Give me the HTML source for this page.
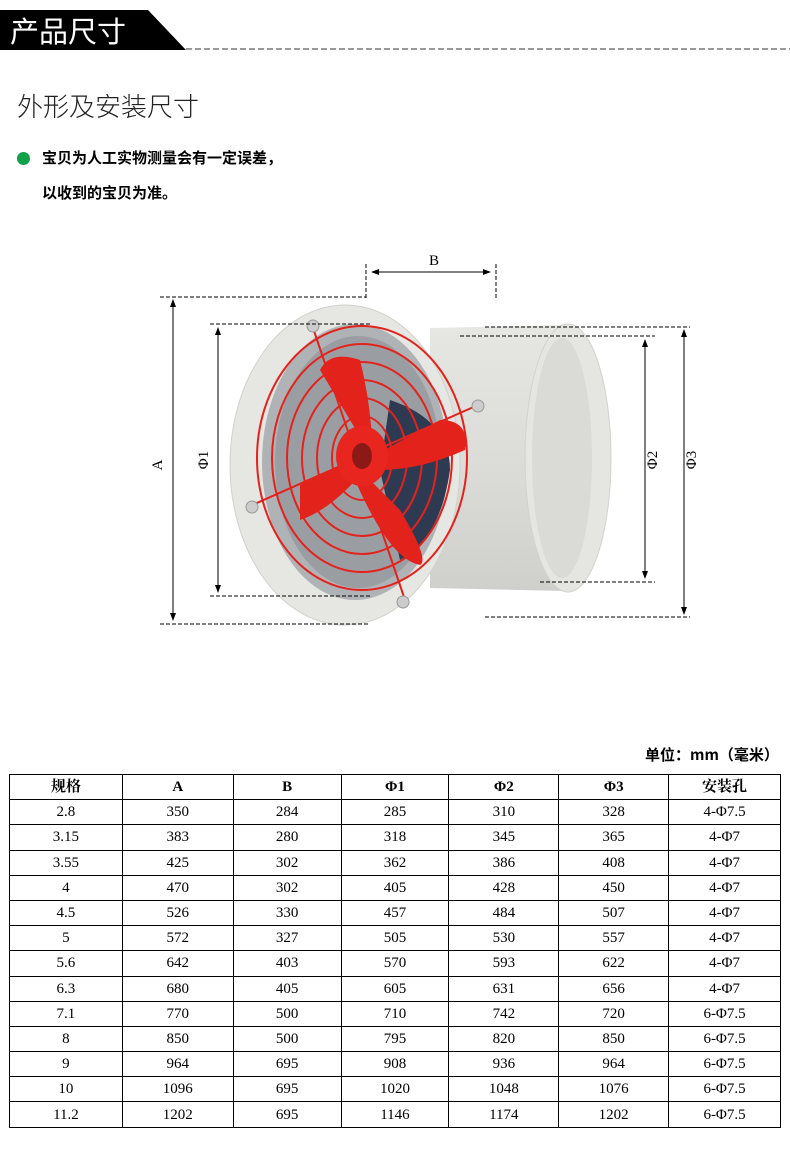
<!DOCTYPE html>
<html><head><meta charset="utf-8"><style>
body{margin:0;width:790px;height:1159px;background:#fff;position:relative;font-family:"Liberation Serif","Noto Serif CJK SC",serif;overflow:hidden}
.abs{position:absolute}
table{position:absolute;left:9px;top:774px;border-collapse:collapse;width:772px;font-size:15px}
td{border:1px solid #000;height:24.2px;padding:0;text-align:center;line-height:24px}
tr:first-child td{font-weight:bold}
</style></head><body>
<svg class="abs" style="left:0;top:0" width="790" height="60">
<polygon points="0,10 148,10 186,50 0,50" fill="#000"/>
<line x1="186" y1="49" x2="790" y2="49" stroke="#333" stroke-dasharray="6,3" stroke-width="1"/>
</svg>
<div class="abs" style="left:10px;top:12px;color:#fff;font-size:29px;font-family:'Noto Sans CJK SC',sans-serif;line-height:36px">产品尺寸</div>
<div class="abs" style="left:17px;top:88px;font-size:26px;color:#222;font-family:'Noto Sans CJK SC',sans-serif;font-weight:300;line-height:36px">外形及安装尺寸</div>
<div class="abs" style="left:17px;top:152px;width:13px;height:13px;border-radius:50%;background:#11a14a"></div>
<div class="abs" style="left:42px;top:146px;font-size:15px;font-family:'Noto Sans CJK SC',sans-serif;font-weight:bold;line-height:24px">宝贝为人工实物测量会有一定误差，</div>
<div class="abs" style="left:42px;top:181px;font-size:15px;font-family:'Noto Sans CJK SC',sans-serif;font-weight:bold;line-height:24px">以收到的宝贝为准。</div>

<svg class="abs" style="left:0;top:0" width="790" height="700">
<defs>
<marker id="ar" markerWidth="8" markerHeight="8" refX="7" refY="4" orient="auto-start-reverse"><path d="M0,1 L8,4 L0,7Z" fill="#000"/></marker>
<linearGradient id="cy" x1="0" y1="0" x2="0" y2="1"><stop offset="0" stop-color="#e6e6e3"/><stop offset="0.5" stop-color="#dcdcd8"/><stop offset="1" stop-color="#cfcfcb"/></linearGradient>
</defs>
<!-- body -->
<path d="M430,328 L565,325 A42,133 0 0 1 565,591 L430,588Z" fill="url(#cy)"/>
<ellipse cx="568" cy="458" rx="43" ry="134" fill="#e5e5e2" stroke="#d2d2ce"/>
<ellipse cx="562" cy="458" rx="30" ry="120" fill="#dadad6"/>
<!-- front ring -->
<ellipse cx="345" cy="465" rx="115" ry="160" fill="#e6e6e3" stroke="#d0d0cc"/>
<ellipse cx="355" cy="462" rx="93" ry="138" fill="#b0b3b6"/>
<ellipse cx="358" cy="462" rx="83" ry="126" fill="#9a9ea3"/>
<path d="M390,400 Q450,420 450,470 Q440,540 400,560 L380,470Z" fill="#2d3a52"/>
<!-- guard rings -->
<g fill="none" stroke="#e4221c" stroke-width="2">
<ellipse cx="362" cy="458" rx="105" ry="132"/>
<ellipse cx="362" cy="458" rx="90" ry="114"/>
<ellipse cx="362" cy="458" rx="75" ry="96"/>
<ellipse cx="362" cy="458" rx="60" ry="78"/>
<ellipse cx="362" cy="458" rx="45" ry="60"/>
<ellipse cx="362" cy="458" rx="30" ry="42"/>
<line x1="312" y1="325" x2="405" y2="600"/>
<line x1="250" y1="506" x2="478" y2="405"/>
</g>
<!-- blades -->
<g fill="#e4221c">
<path d="M365,445 L320,370 Q330,350 360,360 Q370,400 372,440Z"/>
<path d="M375,455 L440,420 Q470,420 465,450 Q420,470 380,470Z"/>
<path d="M360,470 L400,510 Q430,560 420,565 Q390,560 355,480Z"/>
<path d="M355,460 L300,485 L300,520 Q330,510 360,475Z"/>
</g>
<ellipse cx="362" cy="456" rx="26" ry="30" fill="#e8261f"/>
<ellipse cx="362" cy="456" rx="10" ry="13" fill="#8b1a16"/>
<g fill="#ccc" stroke="#999"><circle cx="313" cy="326" r="6"/><circle cx="478" cy="406" r="6"/><circle cx="252" cy="507" r="6"/><circle cx="403" cy="602" r="6"/></g>
<!-- dims -->
<g stroke="#000" stroke-width="1" fill="none">
<g stroke-dasharray="4,2">
<line x1="160" y1="297" x2="366" y2="297"/><line x1="160" y1="624" x2="370" y2="624"/>
<line x1="210" y1="324" x2="370" y2="324"/><line x1="210" y1="596" x2="370" y2="596"/>
<line x1="366" y1="264" x2="366" y2="298"/><line x1="496" y1="264" x2="496" y2="298"/>
<line x1="485" y1="327" x2="690" y2="327"/><line x1="460" y1="336" x2="655" y2="336"/>
<line x1="540" y1="582" x2="655" y2="582"/><line x1="485" y1="617" x2="690" y2="617"/>
</g>
<line x1="173" y1="300" x2="173" y2="620" marker-start="url(#ar)" marker-end="url(#ar)"/>
<line x1="218" y1="328" x2="218" y2="592" marker-start="url(#ar)" marker-end="url(#ar)"/>
<line x1="372" y1="272" x2="490" y2="272" marker-start="url(#ar)" marker-end="url(#ar)"/>
<line x1="645" y1="340" x2="645" y2="578" marker-start="url(#ar)" marker-end="url(#ar)"/>
<line x1="684" y1="330" x2="684" y2="614" marker-start="url(#ar)" marker-end="url(#ar)"/>
</g>
<g font-family="Liberation Serif" font-size="15" fill="#000">
<text x="434" y="265" text-anchor="middle">B</text>
<text transform="translate(162,465) rotate(-90)" text-anchor="middle">A</text>
<text transform="translate(208,460) rotate(-90)" text-anchor="middle">Φ1</text>
<text transform="translate(657,460) rotate(-90)" text-anchor="middle">Φ2</text>
<text transform="translate(696,460) rotate(-90)" text-anchor="middle">Φ3</text>
</g>
</svg>

<div class="abs" style="left:645px;top:744px;font-size:15px;font-weight:bold;font-family:'Noto Sans CJK SC',sans-serif;line-height:22px">单位：mm（毫米）</div>
<table>
<colgroup><col style="width:113px"><col style="width:111px"><col style="width:108px"><col style="width:108px"><col style="width:110px"><col style="width:110px"><col style="width:112px"></colgroup>
<tr><td>规格</td><td>A</td><td>B</td><td>Φ1</td><td>Φ2</td><td>Φ3</td><td>安装孔</td></tr>
<tr><td>2.8</td><td>350</td><td>284</td><td>285</td><td>310</td><td>328</td><td>4-Φ7.5</td></tr>
<tr><td>3.15</td><td>383</td><td>280</td><td>318</td><td>345</td><td>365</td><td>4-Φ7</td></tr>
<tr><td>3.55</td><td>425</td><td>302</td><td>362</td><td>386</td><td>408</td><td>4-Φ7</td></tr>
<tr><td>4</td><td>470</td><td>302</td><td>405</td><td>428</td><td>450</td><td>4-Φ7</td></tr>
<tr><td>4.5</td><td>526</td><td>330</td><td>457</td><td>484</td><td>507</td><td>4-Φ7</td></tr>
<tr><td>5</td><td>572</td><td>327</td><td>505</td><td>530</td><td>557</td><td>4-Φ7</td></tr>
<tr><td>5.6</td><td>642</td><td>403</td><td>570</td><td>593</td><td>622</td><td>4-Φ7</td></tr>
<tr><td>6.3</td><td>680</td><td>405</td><td>605</td><td>631</td><td>656</td><td>4-Φ7</td></tr>
<tr><td>7.1</td><td>770</td><td>500</td><td>710</td><td>742</td><td>720</td><td>6-Φ7.5</td></tr>
<tr><td>8</td><td>850</td><td>500</td><td>795</td><td>820</td><td>850</td><td>6-Φ7.5</td></tr>
<tr><td>9</td><td>964</td><td>695</td><td>908</td><td>936</td><td>964</td><td>6-Φ7.5</td></tr>
<tr><td>10</td><td>1096</td><td>695</td><td>1020</td><td>1048</td><td>1076</td><td>6-Φ7.5</td></tr>
<tr><td>11.2</td><td>1202</td><td>695</td><td>1146</td><td>1174</td><td>1202</td><td>6-Φ7.5</td></tr>
</table>
</body></html>
